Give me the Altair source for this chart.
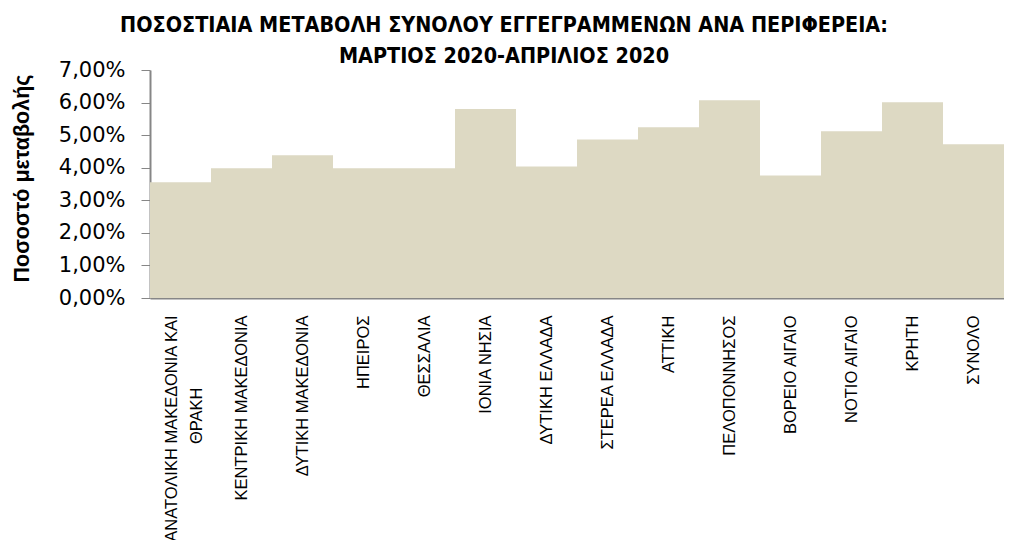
import altair as alt
import pandas as pd

regions = [
    "ΑΝΑΤΟΛΙΚΗ ΜΑΚΕΔΟΝΙΑ ΚΑΙ ΘΡΑΚΗ",
    "ΚΕΝΤΡΙΚΗ ΜΑΚΕΔΟΝΙΑ",
    "ΔΥΤΙΚΗ ΜΑΚΕΔΟΝΙΑ",
    "ΗΠΕΙΡΟΣ",
    "ΘΕΣΣΑΛΙΑ",
    "ΙΟΝΙΑ ΝΗΣΙΑ",
    "ΔΥΤΙΚΗ ΕΛΛΑΔΑ",
    "ΣΤΕΡΕΑ ΕΛΛΑΔΑ",
    "ΑΤΤΙΚΗ",
    "ΠΕΛΟΠΟΝΝΗΣΟΣ",
    "ΒΟΡΕΙΟ ΑΙΓΑΙΟ",
    "ΝΟΤΙΟ ΑΙΓΑΙΟ",
    "ΚΡΗΤΗ",
    "ΣΥΝΟΛΟ",
]
change = [0.0355, 0.0398, 0.0438, 0.0398, 0.0398, 0.0580, 0.0404,
          0.0487, 0.0524, 0.0607, 0.0376, 0.0512, 0.0601, 0.0472]
y_ticks = [0, 0.01, 0.02, 0.03, 0.04, 0.05, 0.06, 0.07]

df = pd.DataFrame({"region": regions, "change": change})

first = "ΑΝΑΤΟΛΙΚΗ ΜΑΚΕΔΟΝΙΑ ΚΑΙ ΘΡΑΚΗ"
pad = "\u2800" * 6
label_expr = (
    "datum.label == '" + first + "' ? "
    "['ΑΝΑΤΟΛΙΚΗ ΜΑΚΕΔΟΝΙΑ ΚΑΙ', 'ΘΡΑΚΗ" + pad + "'] : datum.label"
)

axis_gray = "#868686"

chart = alt.Chart(df).mark_bar(color="#DDD9C3").encode(
    x=alt.X(
        "region:N",
        sort=regions,
        scale=alt.Scale(paddingInner=0, paddingOuter=0),
        axis=alt.Axis(
            title=None,
            labelAngle=-90,
            labelAlign="right",
            labelBaseline="middle",
            labelPadding=17,
            labelFont="Liberation Sans",
            labelFontSize=16.5,
            labelColor="#000000",
            labelLineHeight=25,
            labelExpr=label_expr,
            labelOffset=alt.condition("datum.value == '" + first + "'",
                                      alt.value(-9), alt.value(0)),
            labelOverlap=False,
            labelLimit=400,
            ticks=False,
            domainColor=axis_gray,
            domainWidth=2,
        ),
    ),
    y=alt.Y(
        "change:Q",
        scale=alt.Scale(domain=[0, 0.07], nice=False),
        axis=alt.Axis(
            title="Ποσοστό μεταβολής",
            titleFont="Liberation Sans",
            titleFontSize=21.5,
            titleFontWeight="bold",
            titleColor="#000000",
            titleAngle=-90,
            titleX=-128,
            titleY=108,
            titleAlign="center",
            titleBaseline="middle",
            values=y_ticks,
            labelExpr="replace(format(datum.value, '.2%'), '.', ',')",
            labelFont="DejaVu Sans",
            labelFontSize=21,
            labelColor="#000000",
            labelPadding=16,
            tickSize=9,
            tickColor=axis_gray,
            tickWidth=1,
            domainColor=axis_gray,
            domainWidth=2,
            grid=False,
        ),
    ),
).properties(
    width=854,
    height=228,
    title=alt.TitleParams(
        text=["ΠΟΣΟΣΤΙΑΙΑ ΜΕΤΑΒΟΛΗ  ΣΥΝΟΛΟΥ ΕΓΓΕΓΡΑΜΜΕΝΩΝ ΑΝΑ ΠΕΡΙΦΕΡΕΙΑ:",
              "ΜΑΡΤΙΟΣ 2020-ΑΠΡΙΛΙΟΣ 2020"],
        font="Liberation Sans Narrow, Arial Narrow, DejaVu Sans Condensed, sans-serif",
        fontSize=21.4,
        fontWeight="bold",
        color="#000000",
        anchor="middle",
        frame="group",
        dx=-73,
        offset=-8,
        lineHeight=31,
    ),
    padding={"left": 142, "top": 62, "right": 0, "bottom": 242},
    autosize=alt.AutoSizeParams(type="none"),
).configure_view(stroke=None)

chart.save("out.html", embed_options={"renderer": "svg", "actions": False})
